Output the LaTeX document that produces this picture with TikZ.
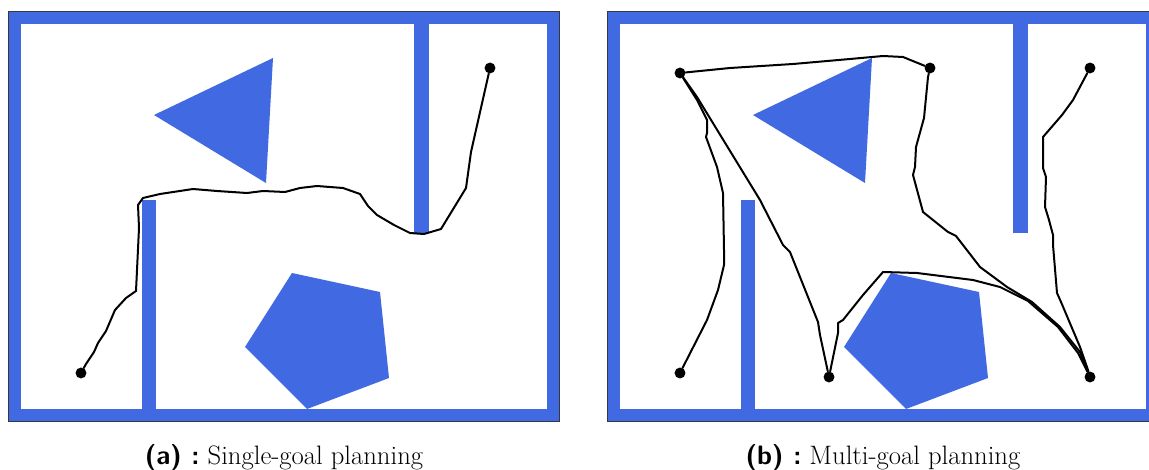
\documentclass[tikz,border=0pt]{standalone}
\definecolor{mapblue}{RGB}{65,105,225}
\definecolor{framegray}{RGB}{55,55,60}
\newcommand\drawenvmap{%
  \fill[obstacle] (8,11) rectangle (560,422);
  \fill[white] (21,24) rectangle (547,409);
  \draw[frameline] (8.5,11.5) rectangle (559.5,421.5);
  \fill[obstacle] (414,24) rectangle (429,233);
  \fill[obstacle] (142,200) rectangle (156,409);
  \fill[obstacle] (154,115) -- (273,58) -- (266,183) -- cycle;
  \fill[obstacle] (245,347) -- (292,273) -- (380,292) -- (389,378) -- (307,409) -- cycle;
}
\begin{document}
\begin{tikzpicture}[x=0.75pt,y=-0.75pt,
  obstacle/.style={fill=mapblue},
  frameline/.style={draw=framegray,line width=0.9pt},
  robotpath/.style={draw=black,line width=1.5pt,line join=round,line cap=round},
  waypoint/.style={circle,fill=black,inner sep=0pt,minimum size=8.2pt},
  caption/.style={inner sep=0pt,anchor=base,font=\fontsize{20}{24}\selectfont}]
\useasboundingbox (0,0) rectangle (1149,470);
\clip (0,0) rectangle (1149,470);
% environments
\drawenvmap
\begin{scope}[shift={(599,0)}]
  \drawenvmap
\end{scope}
% ---- panel (a)
\node[waypoint] (a1) at (81,373) {};
\node[waypoint] (a2) at (490,68) {};
\draw[robotpath] (a1) -- (86,364) -- (94,352) -- (98,343) -- (106,331) -- (115,310) -- (126,298) -- (136,291) -- (137,270) -- (139,228) -- (138,205) -- (143,198) -- (160,194) -- (193,189) -- (217,191) -- (247,193) -- (263,191) -- (285,192) -- (300,188) -- (317,186) -- (343,188) -- (360,194) -- (368,206) -- (377,215) -- (394,225) -- (410,233) -- (424,234) -- (441,229) -- (466,188) -- (471,152) -- (a2);
% ---- panel (b)
\node[waypoint] (b1) at (680,73) {};
\node[waypoint] (b2) at (930,68) {};
\node[waypoint] (b3) at (1090,68) {};
\node[waypoint] (b4) at (680,373) {};
\node[waypoint] (b5) at (829,377) {};
\node[waypoint] (b6) at (1090,377) {};
\draw[robotpath] (b1) -- (690,72) -- (730,68) -- (793,64) -- (850,59) -- (883,56) -- (903,57) -- (b2);
\draw[robotpath] (b2) -- (928,77) -- (924,118) -- (916,147) -- (915,167) -- (913,175) -- (923,212) -- (948,232) -- (956,236) -- (980,267) -- (1007,287) -- (1032,302) -- (1060,327) -- (1080,352) -- (b6);
\draw[robotpath] (b1) -- (697,97) -- (760,200) -- (783,245) -- (790,252) -- (818,322) -- (820,335) -- (b5);
\draw[robotpath] (b1) -- (697,100) -- (707,120) -- (707,133) -- (706,137) -- (717,167) -- (723,193) -- (724,250) -- (724,265) -- (718,290) -- (707,320) -- (b4);
\draw[robotpath] (b5) -- (838,333) -- (838,323) -- (843,320) -- (863,295) -- (883,272) -- (917,273) -- (973,280) -- (1000,287) -- (1028,301) -- (1058,327) -- (1078,353) -- (b6);
\draw[robotpath] (b3) -- (1073,100) -- (1062,115) -- (1043,137) -- (1043,168) -- (1046,177) -- (1045,207) -- (1049,220) -- (1053,235) -- (1053,245) -- (1057,293) -- (1061,302) -- (1080,347) -- (1088,370) -- (b6);
% captions
\node[caption] (capa) at (284,464) {{\sffamily\bfseries (a) :}\ Single-goal planning};
\node[caption] (capb) at (883,464) {{\sffamily\bfseries (b) :}\ Multi-goal planning};
\end{tikzpicture}
\end{document}
